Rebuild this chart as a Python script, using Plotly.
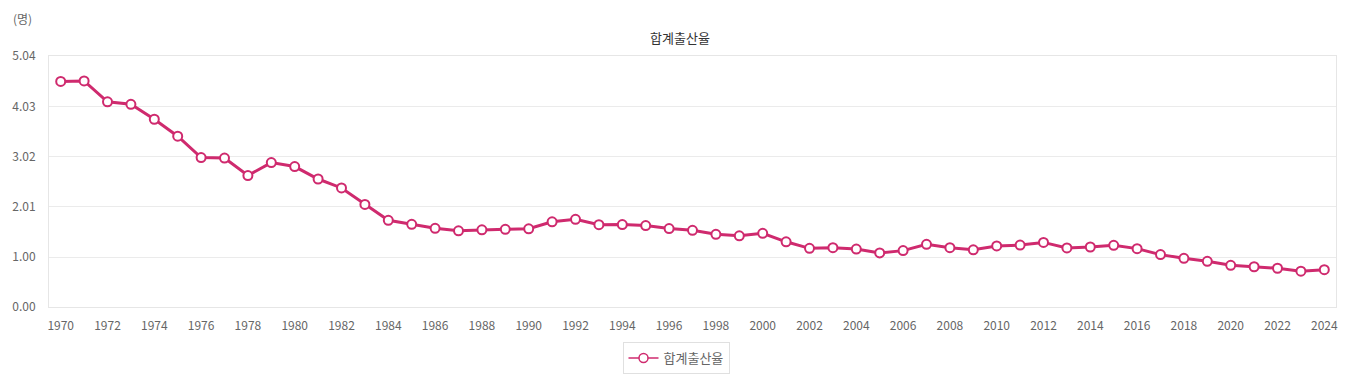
import plotly.graph_objects as go

years = list(range(1970, 2025))
tfr = [4.53, 4.54, 4.12, 4.07, 3.77, 3.43, 3.00, 2.99, 2.64, 2.90,
       2.82, 2.57, 2.39, 2.06, 1.74, 1.66, 1.58, 1.53, 1.55, 1.56,
       1.57, 1.71, 1.76, 1.654, 1.656, 1.634, 1.574, 1.54, 1.46, 1.43,
       1.48, 1.309, 1.178, 1.191, 1.164, 1.085, 1.132, 1.259, 1.192, 1.149,
       1.226, 1.244, 1.297, 1.187, 1.205, 1.239, 1.172, 1.052, 0.977, 0.918,
       0.837, 0.808, 0.778, 0.72, 0.75]
y_ticks = [0.00, 1.00, 2.01, 3.02, 4.03, 5.04]
y_ticktext = ["0.00", "1.00", "2.01", "3.02", "4.03", "5.04"]
x_ticks = list(range(1970, 2025, 2))
series_name = "합계출산율"
unit_label = "(명)"

color = "#cf2a6e"
font = "Noto Sans CJK KR, Noto Sans, sans-serif"

# page body has an 8px default margin; figure coordinates are page - 8
OFF = 8
W, H = 1348 - OFF, 377 - OFF
L, R, T, B = 49 - OFF, 12, 56 - OFF, 70
pw, ph = W - L - R, H - T - B

def py_paper(page_y):
    return (H - B - (page_y - OFF)) / ph

def px_paper(page_x):
    return ((page_x - OFF) - L) / pw

def py_cont(page_y):
    return 1 - (page_y - OFF) / H

def px_cont(page_x):
    return (page_x - OFF) / W

fig = go.Figure()
fig.add_trace(go.Scatter(
    x=years, y=tfr, name=series_name, mode="lines+markers",
    line=dict(color=color, width=3), showlegend=False,
    marker=dict(size=9, color="white", line=dict(color=color, width=2)),
))
# legend entry (thinner symbol, as in the reference legend)
fig.add_trace(go.Scatter(
    x=[None], y=[None], name=series_name, mode="lines+markers",
    line=dict(color=color, width=1.5),
    marker=dict(size=9, color="white", line=dict(color=color, width=1.5)),
))

fig.update_layout(
    width=W, height=H,
    margin=dict(l=L, r=R, t=T, b=B, autoexpand=False),
    paper_bgcolor="white", plot_bgcolor="white",
    font=dict(family=font, size=12, color="#666"),
    title=dict(text=series_name, x=px_cont(680), xref="container", xanchor="center",
               y=py_cont(38), yref="container", yanchor="middle",
               font=dict(size=13, color="#333", family=font)),
    showlegend=True,
    legend=dict(orientation="h", x=px_paper(676), xanchor="center", xref="paper",
                y=py_paper(358), yanchor="middle", yref="paper",
                bordercolor="#e0e0e0", borderwidth=1, itemwidth=30,
                font=dict(size=13, color="#666")),
    xaxis=dict(range=[1969.5, 2024.5], tickvals=x_ticks, showgrid=False,
               showline=True, linecolor="#e6e6e6", mirror=True, ticks="",
               zeroline=False, automargin=False, ticklabelstandoff=8,
               tickfont=dict(size=12, color="#666")),
    yaxis=dict(range=[0, 5.04], tickvals=y_ticks, ticktext=y_ticktext,
               showgrid=True, gridcolor="#ebebeb", showline=True,
               linecolor="#e6e6e6", mirror=True, zeroline=False,
               automargin=False, ticklabelstandoff=10,
               ticks="", tickfont=dict(size=12, color="#666")),
)
fig.add_annotation(text=unit_label, xref="paper", yref="paper",
                   x=px_paper(12), xanchor="left",
                   y=py_paper(9), yanchor="top", borderpad=0,
                   showarrow=False, font=dict(size=12, color="#666"))

fig.write_html("out.html")
